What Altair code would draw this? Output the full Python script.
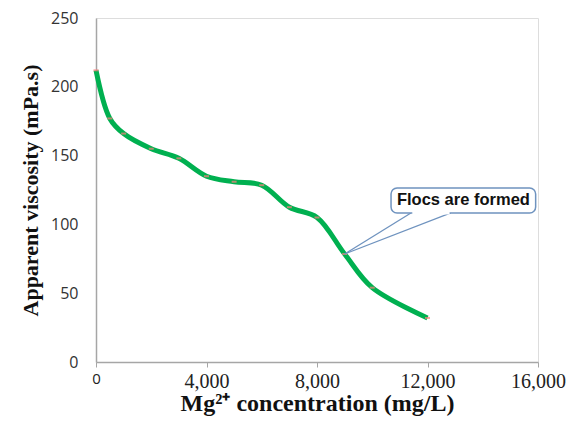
import altair as alt
import pandas as pd

conc = [0, 500, 1000, 2000, 3000, 4000, 5000, 6000, 7000, 8000, 9000, 10000, 12000]
visc = [212, 177, 166, 155, 148, 135, 131, 128.5, 112.5, 105, 78.5, 54, 32]

df = pd.DataFrame({"conc": conc, "visc": visc})

# annotation (data coordinates)
box = pd.DataFrame({"x": [10680], "x2": [15915], "y": [126.5], "y2": [108.3]})
legs = pd.DataFrame({"x": [11400, 12845], "y": [108.3, 108.3], "x2": [9000, 9000], "y2": [78.5, 78.5]})
gap = pd.DataFrame({"x": [11450], "x2": [12800], "y": [108.3]})
label = pd.DataFrame({"x": [13300], "y": [117.5], "t": ["Flocs are formed"]})

xs = alt.Scale(domain=[0, 16000], nice=False)
ys = alt.Scale(domain=[0, 250], nice=False)

xaxis = alt.Axis(
    values=[0, 4000, 8000, 12000, 16000], format=",.0f", grid=False,
    domainColor="#a6a6a6", domainWidth=1.5, tickColor="#a6a6a6", tickSize=5,
    labelFont={"condition": {"test": "datum.value == 0", "value": "Open Sans"}, "value": "Liberation Serif"},
    labelFontSize={"condition": {"test": "datum.value == 0", "value": 15}, "value": 20},
    labelColor="#222222", labelPadding=4, labelFlush=False,
    title="Mg²⁺ concentration (mg/L)", titleFont="Liberation Serif", titleFontSize=24,
    titleFontWeight="bold", titleColor="#111111", titlePadding=0,
)
yaxis = alt.Axis(
    values=[0, 50, 100, 150, 200, 250], grid=False, ticks=False,
    domainColor="#a6a6a6", domainWidth=1.5,
    labelFont="Open Sans", labelFontSize=16, labelColor="#333333", labelPadding=18,
    title="Apparent viscosity (mPa.s)", titleFont="Liberation Serif", titleFontSize=22,
    titleFontWeight="bold", titleColor="#111111", titlePadding=8,
)

line = alt.Chart(df).mark_line(color="#00B050", strokeWidth=5, interpolate="catmull-rom").encode(
    x=alt.X("conc:Q", scale=xs, axis=xaxis),
    y=alt.Y("visc:Q", scale=ys, axis=yaxis),
)
marks = alt.Chart(df).mark_point(shape="M-1,0L1,0", size=25, stroke="#ff8080", strokeWidth=2, filled=False).encode(
    x=alt.X("conc:Q", scale=xs), y=alt.Y("visc:Q", scale=ys)
)

rect = alt.Chart(box).mark_rect(fill="white", stroke="#6f93bf", strokeWidth=1.5, cornerRadius=6).encode(
    x=alt.X("x:Q", scale=xs), x2="x2:Q", y=alt.Y("y:Q", scale=ys), y2="y2:Q"
)
gapr = alt.Chart(gap).mark_rule(color="white", strokeWidth=3).encode(
    x=alt.X("x:Q", scale=xs), x2="x2:Q", y=alt.Y("y:Q", scale=ys)
)
legr = alt.Chart(legs).mark_rule(color="#6f93bf", strokeWidth=1.3).encode(
    x=alt.X("x:Q", scale=xs), x2="x2:Q", y=alt.Y("y:Q", scale=ys), y2="y2:Q"
)
txt = alt.Chart(label).mark_text(font="Liberation Sans", fontSize=16.5, fontWeight="bold", color="#111111").encode(
    x=alt.X("x:Q", scale=xs), y=alt.Y("y:Q", scale=ys), text="t:N"
)

chart = alt.layer(line, marks, legr, rect, gapr, txt).properties(
    width=442, height=344,
    autosize=alt.AutoSizeParams(type="none"),
    padding={"left": 96, "top": 18, "right": 45, "bottom": 66},
).configure_view(stroke="#c8c8c8", strokeWidth=1.5).configure(background="white")

chart.save("out.html", embed_options={"renderer": "svg", "actions": False})
